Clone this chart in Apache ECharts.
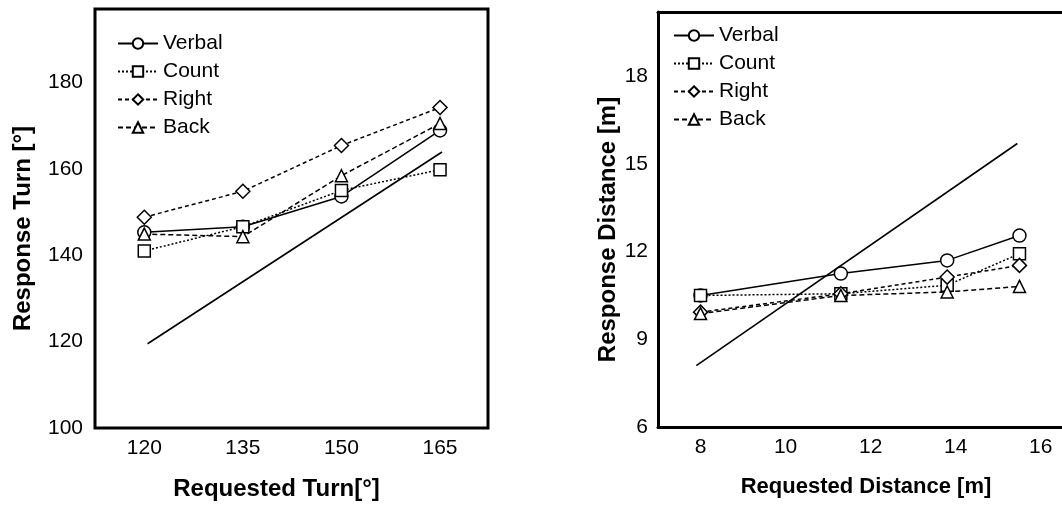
<!DOCTYPE html>
<html>
<head>
<meta charset="utf-8">
<script src="https://cdn.jsdelivr.net/npm/echarts@6/dist/echarts.min.js"></script>
<style>
  html, body { margin: 0; padding: 0; background: #fff; }
  #chart { width: 1062px; height: 506px; }
</style>
</head>
<body>
<div id="chart"></div>
<script>
// left panel: turns
var turnRequested = [120, 135, 150, 165];
var turnVerbal = [145.3, 146.6, 153.6, 168.9];
var turnCount = [141.0, 146.6, 155.0, 159.8];
var turnRight = [148.8, 154.8, 165.4, 174.2];
var turnBack = [144.9, 144.3, 158.4, 170.5];
var turnIdentity = [[120.5, 119.5], [165.3, 163.9]];
var turnXTicks = [120, 135, 150, 165];
var turnYTicks = [100, 120, 140, 160, 180];

// right panel: distances
var distRequested = [8.0, 11.3, 13.8, 15.5];
var distVerbal = [10.5, 11.25, 11.7, 12.55];
var distCount = [10.5, 10.56, 10.85, 11.93];
var distRight = [9.93, 10.56, 11.13, 11.53];
var distBack = [9.88, 10.5, 10.62, 10.81];
var distIdentity = [[7.9, 8.1], [15.45, 15.7]];
var distXTicks = [8, 10, 12, 14, 16];
var distYTicks = [6, 9, 12, 15, 18];

var names = ["Verbal", "Count", "Right", "Back"];
var FONT = "Liberation Sans";

function pairs(xs, ys) {
  return xs.map(function (x, i) { return [x, ys[i]]; });
}

// marker + dash pattern per condition
var styles = {
  Verbal: { symbol: "circle", size: 13, type: "solid" },
  Count: { symbol: "rect", size: 12, type: [2, 2] },
  Right: { symbol: "diamond", size: 14, type: [4, 3] },
  Back: { symbol: "triangle", size: 12, type: [5, 3] }
};

function condSeries(name, data, idx) {
  var s = styles[name];
  return {
    name: name,
    type: "line",
    xAxisIndex: idx,
    yAxisIndex: idx,
    data: data,
    symbol: s.symbol,
    symbolSize: s.size,
    showAllSymbol: true,
    lineStyle: { color: "#000", width: 1.5, type: s.type },
    itemStyle: { color: "#fff", borderColor: "#000", borderWidth: 1.5 },
    emphasis: { disabled: true },
    z: 3
  };
}

function identity(data, idx) {
  return {
    name: "identity",
    type: "line",
    xAxisIndex: idx,
    yAxisIndex: idx,
    data: data,
    symbol: "none",
    lineStyle: { color: "#000", width: 1.6 },
    z: 2
  };
}

function legend(left, top) {
  return {
    data: names,
    orient: "vertical",
    left: left,
    top: top,
    itemWidth: 40,
    itemHeight: 13,
    itemGap: 7,
    selectedMode: false,
    textStyle: { fontFamily: FONT, fontSize: 21, color: "#000" }
  };
}

var frame = { show: true, onZero: false, lineStyle: { color: "#000", width: 3 } };

function xAxis(idx, min, max, ticks, name, size, pad) {
  return {
    type: "value",
    gridIndex: idx,
    min: min,
    max: max,
    name: name,
    nameLocation: "middle",
    nameGap: 49,
    nameTextStyle: { fontFamily: FONT, fontSize: size, fontWeight: "bold", color: "#000", padding: pad },
    axisLine: idx === 1 ? frame : { show: false },
    axisTick: { show: false },
    splitLine: { show: false },
    axisLabel: { customValues: ticks, margin: 10, fontFamily: FONT, fontSize: 21, color: "#000" }
  };
}

function yAxis(idx, min, max, ticks, name, gap, margin) {
  return {
    type: "value",
    gridIndex: idx,
    min: min,
    max: max,
    name: name,
    nameLocation: "middle",
    nameGap: gap,
    nameTextStyle: { fontFamily: FONT, fontSize: 24, fontWeight: "bold", color: "#000", padding: [0, 20, 0, 0] },
    axisLine: idx === 1 ? frame : { show: false },
    axisTick: { show: false },
    splitLine: { show: false },
    axisLabel: { customValues: ticks, margin: margin, fontFamily: FONT, fontSize: 21, color: "#000" }
  };
}

var chart = echarts.init(document.getElementById("chart"), null, { renderer: "canvas" });
chart.setOption({
  animation: false,
  backgroundColor: "#fff",
  grid: [
    { left: 95, top: 9, width: 393, height: 419, show: true, borderColor: "#000", borderWidth: 3 },
    { left: 658, top: 12, right: 0, height: 415 }
  ],
  legend: [legend(112, 28), legend(668, 20)],
  xAxis: [
    xAxis(0, 112.5, 172.3, turnXTicks, "Requested Turn[°]", 24, [0, 30, 0, 0]),
    xAxis(1, 7, 16.5, distXTicks, "Requested Distance [m]", 22, [0, 0, 0, 12]),
    // top edge of the right frame
    {
      type: "value", gridIndex: 1, position: "top", min: 7, max: 16.5,
      axisLine: frame, axisTick: { show: false }, axisLabel: { show: false }, splitLine: { show: false }
    }
  ],
  yAxis: [
    yAxis(0, 100, 197, turnYTicks, "Response Turn [°]", 60, 12),
    yAxis(1, 6, 20.2, distYTicks, "Response Distance [m]", 37, 10)
  ],
  series: [
    identity(turnIdentity, 0),
    condSeries("Verbal", pairs(turnRequested, turnVerbal), 0),
    condSeries("Count", pairs(turnRequested, turnCount), 0),
    condSeries("Right", pairs(turnRequested, turnRight), 0),
    condSeries("Back", pairs(turnRequested, turnBack), 0),
    identity(distIdentity, 1),
    condSeries("Verbal", pairs(distRequested, distVerbal), 1),
    condSeries("Count", pairs(distRequested, distCount), 1),
    condSeries("Right", pairs(distRequested, distRight), 1),
    condSeries("Back", pairs(distRequested, distBack), 1)
  ]
});
</script>
</body>
</html>
